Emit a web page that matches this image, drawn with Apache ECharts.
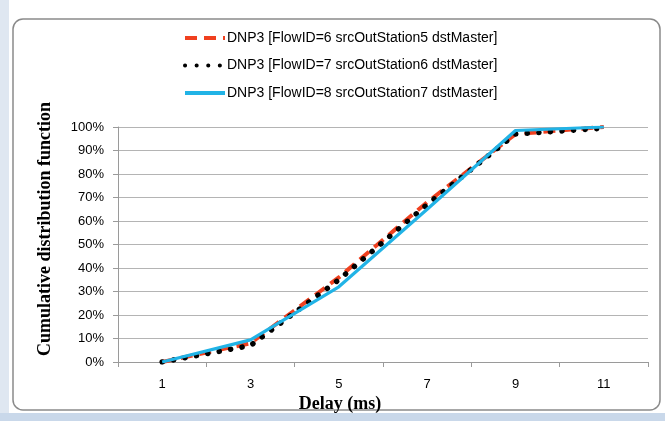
<!DOCTYPE html>
<html>
<head>
<meta charset="utf-8">
<script src="https://cdn.jsdelivr.net/npm/echarts@6/dist/echarts.min.js"></script>
<style>
	html, body { margin: 0; padding: 0; background: #fff; }
	#chart { width: 665px; height: 421px; }
</style>
</head>
<body>
<div id="chart"></div>
<script>
	// delay values (ms) on the x axis, also used as tick labels
	var delays = [1, 3, 5, 7, 9, 11];
	var yTicks = [0, 10, 20, 30, 40, 50, 60, 70, 80, 90, 100];

	// CDF values in %
	var flow6 = [0, 8, 36, 68, 97, 100];
	var flow7 = [0, 7, 35, 67, 97, 99.5];
	var flow8 = [0, 9.4, 32, 65, 98.5, 100];

	var names = [
		'DNP3 [FlowID=6 srcOutStation5 dstMaster]',
		'DNP3 [FlowID=7 srcOutStation6 dstMaster]',
		'DNP3 [FlowID=8 srcOutStation7 dstMaster]'
	];

	var pairs = function(vals){
		var out = [];
		for(var i = 0, j = delays.length; i < j; i++){
			out.push([delays[i], vals[i]]);
		}
		return out;
	};

	var chart = echarts.init(document.getElementById('chart'));
	chart.setOption({
		animation: false,
		graphic: [
			{ type: 'rect', shape: { x: 0, y: 0, width: 9, height: 421 }, style: { fill: '#dfe7f1' }, silent: true },
			{ type: 'rect', shape: { x: 0, y: 413, width: 665, height: 8 }, style: { fill: '#c9d8ea' }, silent: true },
			{ type: 'rect', shape: { x: 13, y: 19, width: 647, height: 391, r: 10 }, style: { fill: 'none', stroke: '#8a8a8a', lineWidth: 1.5 }, silent: true, z: -1 },
			{ type: 'text', x: 45, y: 229, rotation: Math.PI / 2,
				style: { text: 'Cumulative distribution function', font: 'bold 18px "Liberation Serif"', fill: '#000', align: 'center', verticalAlign: 'middle' } },
			{ type: 'text', x: 340, y: 404,
				style: { text: 'Delay (ms)', font: 'bold 18px "Liberation Serif"', fill: '#000', align: 'center', verticalAlign: 'middle' } }
		],
		legend: {
			orient: 'vertical',
			left: 178,
			top: 26,
			itemWidth: 40,
			itemHeight: 14,
			itemGap: 13.5,
			itemStyle: { opacity: 0 },
			lineStyle: { width: 4 },
			textStyle: { fontFamily: 'Liberation Sans', fontSize: 14, color: '#000', padding: [0, 0, 0, -3] },
			data: names
		},
		grid: { left: 118, right: 17, top: 127, bottom: 59 },
		xAxis: [{
			type: 'category',
			data: delays.map(String),
			boundaryGap: true,
			axisLine: { lineStyle: { color: '#9a9a9a', width: 1 } },
			axisTick: { show: true, interval: 0, length: 5, lineStyle: { color: '#9a9a9a' } },
			axisLabel: { interval: 0, margin: 16, fontFamily: 'Liberation Sans', fontSize: 13, color: '#000' },
			splitLine: { show: false }
		}, {
			type: 'value',
			min: 0,
			max: 12,
			show: false
		}],
		yAxis: {
			type: 'value',
			min: yTicks[0],
			max: yTicks[yTicks.length - 1],
			interval: 10,
			axisLine: { show: true, lineStyle: { color: '#9a9a9a', width: 1 } },
			axisTick: { show: true, length: 5, lineStyle: { color: '#9a9a9a' } },
			axisLabel: { formatter: '{value}%', margin: 14, fontFamily: 'Liberation Sans', fontSize: 13, color: '#000' },
			splitLine: { lineStyle: { color: '#b4b4b4', width: 1.2 } }
		},
		series: [{
			name: names[0],
			type: 'line',
			xAxisIndex: 1,
			symbol: 'none',
			data: pairs(flow6),
			lineStyle: { color: '#f0401f', width: 4, type: [12, 7] },
			itemStyle: { color: '#f0401f' },
			z: 2
		}, {
			name: names[1],
			type: 'line',
			xAxisIndex: 1,
			symbol: 'none',
			data: pairs(flow7),
			lineStyle: { color: '#000', width: 5.5, type: [0.1, 11.5], cap: 'round' },
			itemStyle: { color: '#000' },
			z: 3
		}, {
			name: names[2],
			type: 'line',
			xAxisIndex: 1,
			symbol: 'none',
			data: pairs(flow8),
			lineStyle: { color: '#21b3e6', width: 3.2 },
			itemStyle: { color: '#21b3e6' },
			z: 4
		}]
	});
</script>
</body>
</html>
